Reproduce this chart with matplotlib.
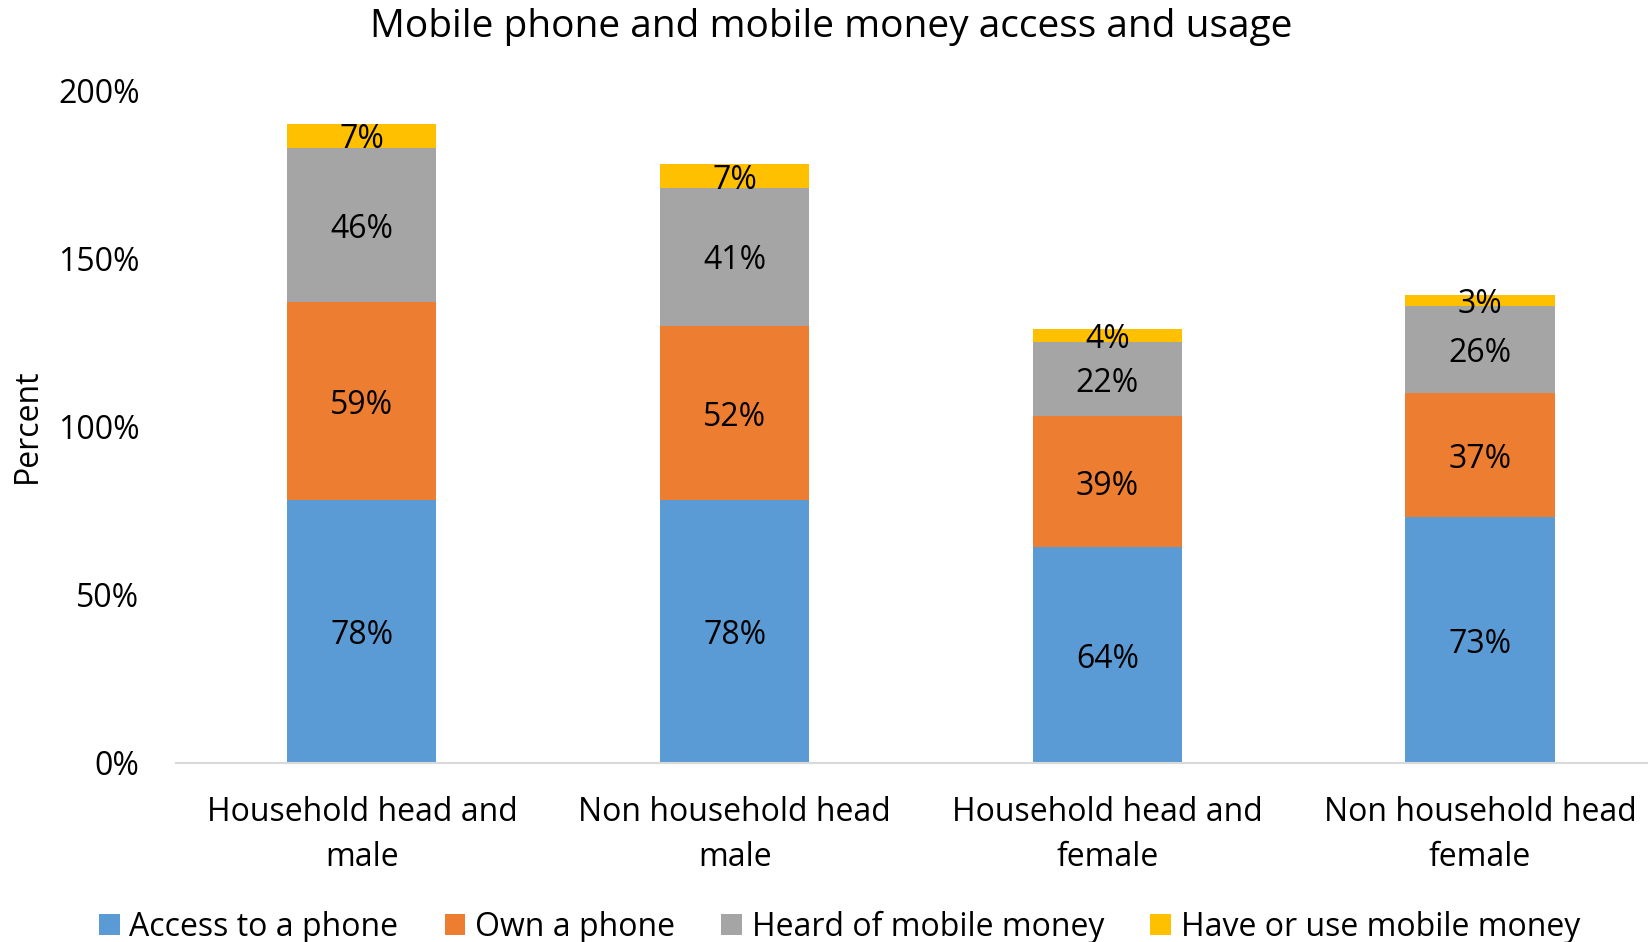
import numpy as np
import matplotlib
matplotlib.use('Agg')
import matplotlib.pyplot as plt

plt.rcParams['font.family'] = ['Open Sans', 'DejaVu Sans']

categories = ['Household head and\nmale', 'Non household head\nmale',
              'Household head and\nfemale', 'Non household head\nfemale']
access = [78, 78, 64, 73]
own = [59, 52, 39, 37]
heard = [46, 41, 22, 26]
use_mm = [7, 7, 4, 3]

series = [('Access to a phone', access, '#5B9BD5'),
          ('Own a phone', own, '#ED7D31'),
          ('Heard of mobile money', heard, '#A5A5A5'),
          ('Have or use mobile money', use_mm, '#FFC000')]

fig = plt.figure(figsize=(16.49, 9.42), dpi=100)
ax = fig.add_axes([0.1065, 0.1905, 0.904, 0.7135])

x = np.arange(len(categories))
bottom = np.zeros(len(categories))
for name, vals, color in series:
    vals = np.array(vals, dtype=float)
    ax.bar(x, vals, 0.4, bottom=bottom, color=color, label=name)
    for xi, b, v in zip(x, bottom, vals):
        ax.annotate(f'{v:.0f}%', (xi, b + v / 2), xytext=(0, -3),
                    textcoords='offset points', ha='center', va='center',
                    fontsize=23, color='black')
    bottom += vals

ax.set_xlim(-0.5, 3.5)
ax.set_ylim(0, 200)
ax.set_yticks([0, 50, 100, 150, 200])
ax.set_yticklabels(['0%', '50%', '100%', '150%', '200%'])
ax.set_xticks(x)
ax.set_xticklabels(categories, linespacing=1.5)
ax.tick_params(axis='y', length=0, pad=26, labelsize=23)
ax.tick_params(axis='x', length=0, pad=24, labelsize=23)
for s in ['top', 'right', 'left']:
    ax.spines[s].set_visible(False)
ax.spines['bottom'].set_color('#D9D9D9')
ax.spines['bottom'].set_linewidth(1.5)

fig.text(0.504, 0.971, 'Mobile phone and mobile money access and usage',
         ha='center', va='center', fontsize=28)
fig.text(0.0165, 0.548, 'Percent', rotation=90, ha='center', va='center',
         fontsize=23)

fig.legend(loc='center', bbox_to_anchor=(0.509, 0.016), ncol=4, frameon=False,
           fontsize=23, handlelength=0.65, handleheight=0.65,
           handletextpad=0.3, columnspacing=1.45)

fig.savefig('out.png', dpi=100)
